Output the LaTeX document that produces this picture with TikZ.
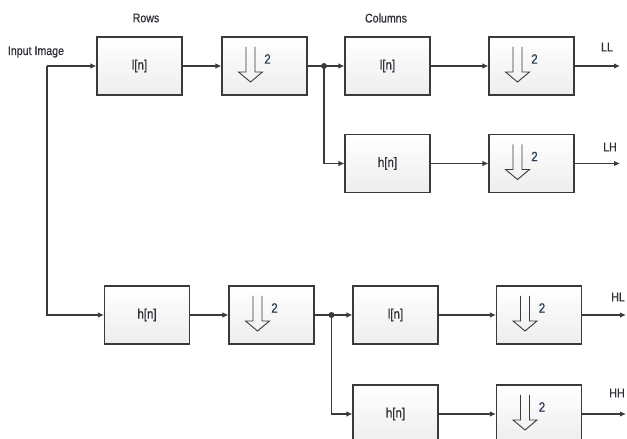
\documentclass[tikz,border=0pt]{standalone}
\usepackage{fontspec}
\setmainfont{Liberation Sans}[FakeStretch=0.85,FakeBold=0.6]
\usetikzlibrary{arrows.meta}
\definecolor{linegray}{HTML}{3A3A3A}
\definecolor{textgray}{HTML}{2E2E36}
\definecolor{twoblue}{HTML}{2C3A58}
\tikzset{
  filt/.style={draw=linegray, line width=1.1pt, top color=white, bottom color=gray!14,
    minimum width=85pt, minimum height=58pt, text=textgray,
    font=\fontsize{13.5}{16}\selectfont},
  dsbox/.style={filt, path picture={
    \draw[linegray, line width=0.9pt, shift={(path picture bounding box.center)}]
      (-18.5,19) -- (-18.5,-6) -- (-26,-6) -- (-14,-16) -- (-2,-6) -- (-9.5,-6) -- (-9.5,19);
    \node[text=twoblue, inner sep=0pt] at ([shift={(3,7)}]path picture bounding box.center) {2};}},
  wire/.style={draw=linegray, line width=1.1pt},
  arr/.style={wire, -{Latex[length=6pt,width=5.5pt]}},
  lbl/.style={text=textgray, inner sep=0pt}
}
\begin{document}
\begin{tikzpicture}[x=1pt,y=1pt,font=\fontsize{12.5}{15}\selectfont]
  \useasboundingbox (0,0) rectangle (627,439);
  \node[filt] (lo1) at (139.5,373) {l[n]};
  \node[dsbox] (ds1) at (264.5,373) {};
  \node[filt] (lo2) at (387.5,373) {l[n]};
  \node[dsbox] (ds2) at (531.5,373) {};
  \node[filt] (hi2) at (387.5,275.5) {h[n]};
  \node[dsbox] (ds3) at (531.5,275.5) {};
  \node[filt] (hi1) at (147,124) {h[n]};
  \node[dsbox] (ds4) at (271.5,124) {};
  \node[filt] (lo3) at (395.5,124) {l[n]};
  \node[dsbox] (ds5) at (539,124) {};
  \node[filt] (hi3) at (395.5,25) {h[n]};
  \node[dsbox] (ds6) at (539,25) {};

  \coordinate (in) at (47,373);
  \coordinate (j1) at (324,373);
  \coordinate (j2) at (331.5,124);
  \coordinate (ll) at (620,373);
  \coordinate (lh) at (620,275.5);
  \coordinate (hl) at (626,124);
  \coordinate (hh) at (626,25);

  \node[lbl] (rows) at (146,421) {Rows};
  \node[lbl] (cols) at (386,421) {Columns};
  \node[lbl] (input) at (36,387) {Input Image};
  \node[lbl] (llt) at (607,392) {LL};
  \node[lbl] (lht) at (610,292) {LH};
  \node[lbl] (hlt) at (618,142) {HL};
  \node[lbl] (hht) at (617,46) {HH};

  \draw[arr] (in) -- (lo1);
  \draw[arr] (in) |- (hi1);
  \draw[arr] (lo1) -- (ds1);
  \draw[wire] (ds1) -- (j1);
  \draw[arr] (j1) -- (lo2);
  \draw[arr] (j1) |- (hi2);
  \draw[arr] (lo2) -- (ds2);
  \draw[arr] (hi2) -- (ds3);
  \draw[arr] (ds2) -- (ll);
  \draw[arr] (ds3) -- (lh);

  \draw[arr] (hi1) -- (ds4);
  \draw[wire] (ds4) -- (j2);
  \draw[arr] (j2) -- (lo3);
  \draw[arr] (j2) |- (hi3);
  \draw[arr] (lo3) -- (ds5);
  \draw[arr] (hi3) -- (ds6);
  \draw[arr] (ds5) -- (hl);
  \draw[arr] (ds6) -- (hh);

  \foreach \j in {j1,j2}
    \fill[linegray] (\j) circle (3pt);
\end{tikzpicture}
\end{document}
